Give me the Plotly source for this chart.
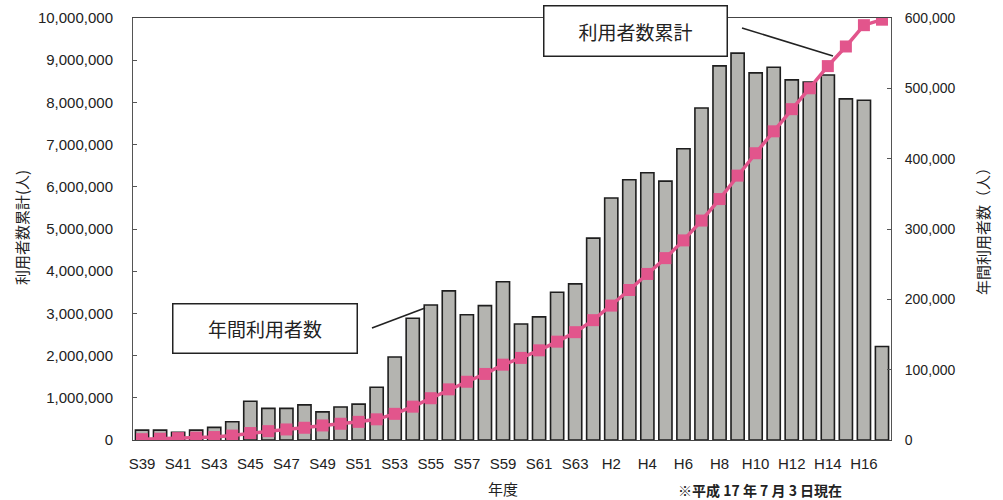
import plotly.graph_objects as go

years = ["S39","S40","S41","S42","S43","S44","S45","S46","S47","S48","S49","S50","S51","S52",
         "S53","S54","S55","S56","S57","S58","S59","S60","S61","S62","S63",
         "H1","H2","H3","H4","H5","H6","H7","H8","H9","H10","H11","H12","H13","H14","H15","H16","H17"]

annual_users = [14000,14000,11000,14000,18000,26000,55000,45000,45000,50000,40000,47000,51000,75000,
                118000,173000,192000,212000,178000,191000,225000,165000,175000,210000,222000,
                287000,344000,370000,380000,368000,414000,472000,532000,550000,522000,530000,512000,509000,
                519000,485000,483000,133000]

cumulative_users = [20000,30000,45000,55000,70000,105000,165000,210000,250000,290000,345000,385000,430000,490000,
                    620000,790000,990000,1200000,1380000,1565000,1785000,1945000,2125000,2330000,2555000,
                    2840000,3185000,3555000,3935000,4310000,4730000,5200000,5710000,6265000,6795000,7315000,7840000,8335000,
                    8860000,9325000,9830000,9960000]

tick_labels = ["S39","S41","S43","S45","S47","S49","S51","S53","S55","S57","S59","S61","S63",
               "H2","H4","H6","H8","H10","H12","H14","H16"]

L, R, T, B = 133, 891, 18, 440
W, H = 1003, 500
def px(x): return (x - L) / (R - L)
def py(y): return (B - y) / (B - T)

fig = go.Figure()
fig.add_trace(go.Bar(x=years, y=annual_users, yaxis="y",
                     marker=dict(color="#b4b4b0", line=dict(color="#1e1e1e", width=1.6)),
                     showlegend=False))
fig.add_trace(go.Scatter(x=years, y=cumulative_users, yaxis="y2", mode="lines+markers",
                         line=dict(color="#e2558c", width=3.5),
                         marker=dict(symbol="square", size=12, color="#e2558c"),
                         showlegend=False))

ff = "Liberation Sans, Arial, sans-serif"
fig.update_layout(
    width=W, height=H,
    margin=dict(l=L, r=W - R, t=T, b=H - B),
    paper_bgcolor="white", plot_bgcolor="white",
    bargap=0.27,
    xaxis=dict(type="category", tickmode="array", tickvals=tick_labels, ticktext=tick_labels,
               tickfont=dict(family=ff, size=15, color="#222"), showline=True, linecolor="#444",
               linewidth=1.2, mirror=True, ticks="", showgrid=False, range=[-0.5, len(years) - 0.5],
               automargin=False, ticklabelstandoff=10),
    yaxis=dict(side="right", range=[0, 600000], dtick=100000, tickformat=",d",
               tickfont=dict(family=ff, size=14, color="#222"), showgrid=False, zeroline=False,
               automargin=False, showline=True, linecolor="#555", linewidth=1, ticks="inside",
               ticklen=4, tickcolor="#555", ticklabelstandoff=10),
    yaxis2=dict(side="left", overlaying="y", range=[0, 10000000], dtick=1000000, tickformat=",d",
                tickfont=dict(family=ff, size=15, color="#222"), showgrid=False, zeroline=False,
                automargin=False, showline=True, linecolor="#555", linewidth=1, ticks="inside",
                ticklen=4, tickcolor="#555", ticklabelstandoff=16),
)

jp = "Noto Sans CJK JP"
anns = [
    dict(x=px(21), y=py(228), text="利用者数累計(人)", textangle=-90, font=dict(family=jp, size=15, color="#222")),
    dict(x=px(982), y=py(228), text="年間利用者数（人）", textangle=-90, font=dict(family=jp, size=15, color="#222")),
    dict(x=px(503), y=py(488), text="年度", font=dict(family=jp, size=15, color="#222")),
    dict(x=px(760), y=py(490), text="※平成 17 年 7 月 3 日現在", font=dict(family=jp, size=14, color="#222", weight="bold")),
    dict(x=px(635.5), y=py(31), text="利用者数累計", font=dict(family=jp, size=19, color="#222"),
         bordercolor="#222", borderwidth=1.5, borderpad=0, width=182, height=49, bgcolor="white"),
    dict(x=px(265), y=py(328.5), text="年間利用者数", font=dict(family=jp, size=19, color="#222"),
         bordercolor="#222", borderwidth=1.5, borderpad=0, width=183, height=48, bgcolor="white"),
]
for a in anns:
    a.update(xref="paper", yref="paper", showarrow=False, xanchor="center", yanchor="middle")
    fig.add_annotation(**a)

fig.add_shape(type="line", xref="paper", yref="paper", x0=px(742), y0=py(28), x1=px(833), y1=py(56),
              line=dict(color="#222", width=1.6))
fig.add_shape(type="line", xref="paper", yref="paper", x0=px(372), y0=py(328), x1=px(425), y1=py(308),
              line=dict(color="#222", width=1.6))

fig.write_html("out.html", config={"displayModeBar": False},
               post_script="document.body.style.margin='0px';document.body.style.overflow='hidden';")
